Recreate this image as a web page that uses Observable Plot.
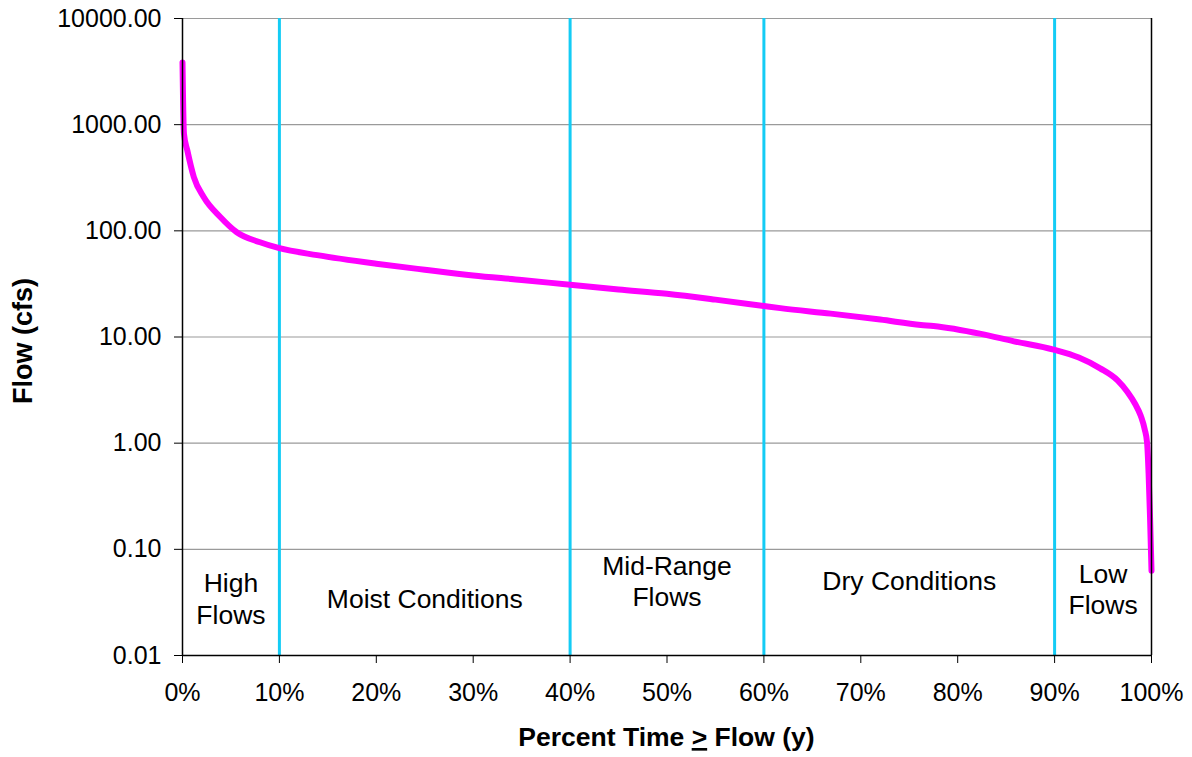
<!DOCTYPE html>
<html>
<head>
<meta charset="utf-8">
<script src="https://cdn.jsdelivr.net/npm/d3@7"></script>
<script src="https://cdn.jsdelivr.net/npm/@observablehq/plot@0.6"></script>
<style>
  html, body { margin: 0; padding: 0; background: #fff; }
  #chart { width: 1192px; height: 757px; }
</style>
</head>
<body>
<div id="chart"></div>
<script>
// Flow duration curve: percent of time flow is equalled or exceeded (x), flow in cfs (y)
const pctExceeded = [0, 0.05, 0.15, 0.5, 1.17, 2.2, 3.9, 5.6, 8.0, 9.9, 13.9, 20, 25, 30, 35, 40, 45, 50, 55, 60, 61.7, 66.9, 72.0, 76.2, 77.5, 82.4, 85.8, 89.9, 92.5, 94.7, 96.5, 97.5, 98.3, 98.9, 99.3, 99.55, 99.7, 99.85, 100];
const flowCfs     = [3850, 1900, 820, 571, 321, 207, 135, 97, 78, 69, 59, 49, 43, 38, 34.5, 31, 28, 25.5, 22.5, 19.6, 18.7, 16.6, 14.6, 13.0, 12.7, 10.7, 9.1, 7.6, 6.4, 5.07, 3.9, 3.05, 2.35, 1.8, 1.35, 1.0, 0.52, 0.2, 0.063];

// Flow-regime zones
const zoneBounds = [0, 10, 40, 60, 90, 100];
const zoneNames = ["High\nFlows", "Moist Conditions", "Mid-Range\nFlows", "Dry Conditions", "Low\nFlows"];
const zoneLabelFlow = [0.035, 0.035, 0.051, 0.052, 0.043];

// Axis ticks
const xTicks = [0, 10, 20, 30, 40, 50, 60, 70, 80, 90, 100];
const yTicks = [0.01, 0.1, 1, 10, 100, 1000, 10000];

const curve = pctExceeded.map((p, i) => ({pct: p, flow: flowCfs[i]}));
const dividers = zoneBounds.slice(1, -1);
const zoneLabels = zoneNames.map((name, i) => ({
  name,
  pct: (zoneBounds[i] + zoneBounds[i + 1]) / 2,
  flow: zoneLabelFlow[i]
}));

const FONT = "'Liberation Sans', Arial, Helvetica, sans-serif";

const chart = Plot.plot({
  width: 1192,
  height: 757,
  marginLeft: 182,
  marginRight: 41,
  marginTop: 18,
  marginBottom: 102,
  style: {fontFamily: FONT, fontSize: "24px", color: "#000", background: "#fff"},
  x: {domain: [0, 100], label: null},
  y: {type: "log", domain: [0.01, 10000], label: null},
  marks: [
    Plot.ruleY(yTicks, {stroke: "#9a9a9a", strokeWidth: 1.2}),
    Plot.ruleX(dividers, {stroke: "#14CCF5", strokeWidth: 3}),
    Plot.line(curve, {x: "pct", y: "flow", stroke: "#FF00FF", strokeWidth: 6, strokeLinejoin: "round", curve: "monotone-x"}),
    Plot.ruleX([0, 100], {stroke: "#000", strokeWidth: 1.5}),
    Plot.ruleY([0.01], {stroke: "#000", strokeWidth: 1.5}),
    Plot.text(zoneLabels, {x: "pct", y: "flow", text: "name", fontSize: 26.5, lineHeight: 1.2, fill: "#000", textAnchor: "middle", lineAnchor: "middle"}),
    Plot.axisY({ticks: yTicks, tickSize: 8, tickPadding: 13, tickFormat: d3.format(".2f"), label: null, fontSize: 25}),
    Plot.axisX({ticks: xTicks, tickSize: 8, tickPadding: 20, tickFormat: d => d + "%", label: null, fontSize: 25})
  ]
});

document.getElementById("chart").appendChild(chart);

// Axis titles
const svg = d3.select(chart);
const xt = svg.append("text")
  .attr("x", 666.5).attr("y", 746)
  .attr("text-anchor", "middle")
  .attr("font-family", FONT).attr("font-size", 26.5).attr("font-weight", "bold")
  .attr("fill", "#000");
xt.append("tspan").text("Percent Time ");
xt.append("tspan").attr("text-decoration", "underline").text(">");
xt.append("tspan").text(" Flow (y)");

svg.append("text")
  .attr("transform", "translate(32,341) rotate(-90)")
  .attr("text-anchor", "middle")
  .attr("font-family", FONT).attr("font-size", 27).attr("font-weight", "bold")
  .attr("fill", "#000")
  .text("Flow (cfs)");
</script>
</body>
</html>
